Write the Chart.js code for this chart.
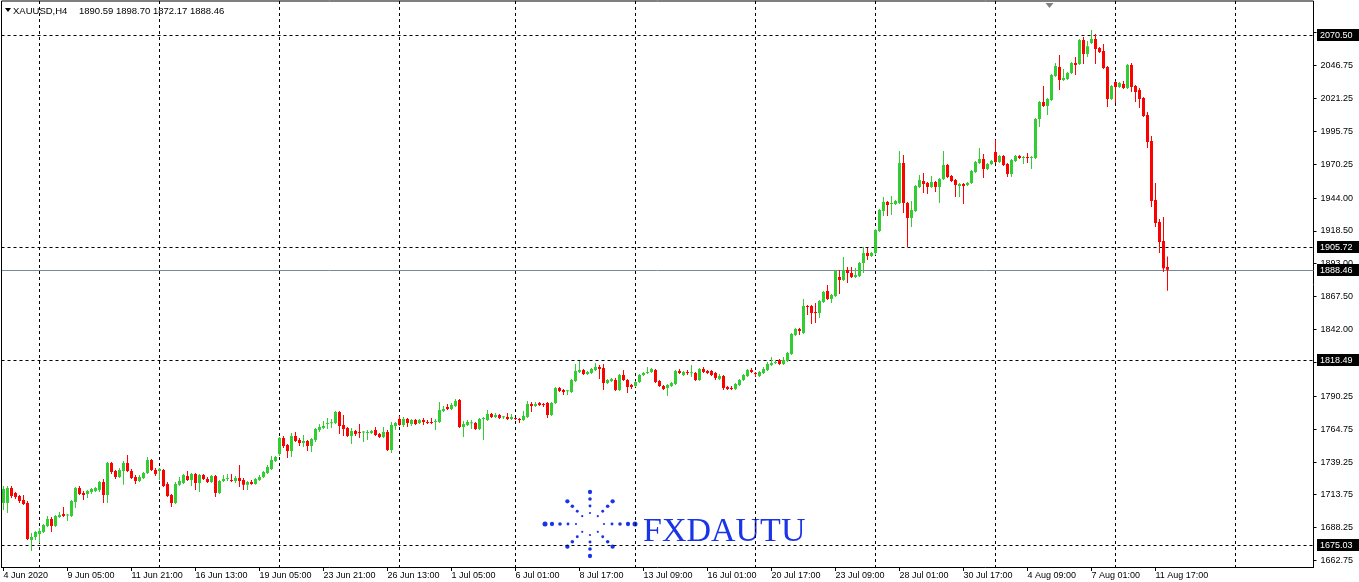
<!DOCTYPE html>
<html>
<head>
<meta charset="utf-8">
<title>XAUUSD,H4</title>
<script src="https://cdn.jsdelivr.net/npm/chart.js@4.4.1/dist/chart.umd.min.js"></script>
<style>
  html, body { margin: 0; padding: 0; background: #fff; }
  #wrap { width: 1359px; height: 582px; position: relative; }
</style>
</head>
<body>
<div id="wrap"><canvas id="chart" width="1359" height="582"></canvas></div>
<script>
// XAUUSD H4 candles, 4 Jun 2020 13:00 -> 12 Aug 2020 05:00
const symbol = "XAUUSD,H4";

const opens = [
  1707.6, 1707.6, 1719.2, 1715.3, 1713.0, 1709.9, 1707.6, 1678.9, 1681.2, 1683.5,
  1685.1, 1689.7, 1695.2, 1689.7, 1696.7, 1699.1, 1697.9, 1697.5, 1708.3, 1719.2,
  1715.3, 1714.5, 1716.1, 1716.9, 1717.7, 1723.9, 1713.8, 1738.6, 1732.4, 1727.7,
  1732.4, 1738.6, 1732.4, 1727.7, 1724.6, 1726.9, 1730.8, 1740.9, 1733.2, 1732.4,
  1733.2, 1722.3, 1713.8, 1707.6, 1721.6, 1723.1, 1728.5, 1725.4, 1730.1, 1723.1,
  1729.3, 1726.2, 1723.9, 1728.5, 1715.3, 1724.6, 1726.2, 1725.4, 1724.6, 1726.9,
  1725.4, 1721.6, 1723.9, 1722.3, 1725.4, 1727.7, 1730.8, 1733.9, 1740.1, 1745.6,
  1758.0, 1752.5, 1747.9, 1759.5, 1756.4, 1754.1, 1755.6, 1751.8, 1756.4, 1764.2,
  1765.7, 1768.8, 1769.3, 1769.6, 1778.1, 1768.0, 1765.7, 1759.5, 1763.4, 1762.2,
  1762.3, 1761.9, 1761.9, 1764.2, 1761.1, 1758.7, 1762.6, 1748.7, 1767.3, 1772.7,
  1768.0, 1772.7, 1768.8, 1771.9, 1769.6, 1771.9, 1770.4, 1770.4, 1770.4, 1770.4,
  1778.9, 1782.0, 1780.5, 1782.8, 1787.4, 1766.5, 1768.0, 1769.4, 1769.6, 1764.9,
  1772.7, 1771.9, 1776.6, 1774.2, 1775.8, 1774.0, 1774.2, 1772.7, 1772.9, 1772.7,
  1771.9, 1774.2, 1784.3, 1782.8, 1785.1, 1784.3, 1785.1, 1775.8, 1785.1, 1796.7,
  1795.2, 1794.2, 1793.6, 1802.2, 1809.2, 1810.7, 1807.6, 1808.4, 1810.7, 1813.0,
  1812.2, 1800.6, 1802.2, 1803.0, 1795.2, 1806.8, 1803.0, 1799.1, 1798.3, 1801.4,
  1806.8, 1808.4, 1809.2, 1810.7, 1802.2, 1798.3, 1796.7, 1798.3, 1799.9, 1809.9,
  1806.8, 1809.2, 1808.2, 1808.4, 1803.0, 1811.5, 1809.9, 1809.9, 1808.4, 1803.7,
  1806.1, 1797.5, 1796.7, 1796.0, 1799.1, 1803.0, 1806.1, 1810.7, 1808.4, 1806.1,
  1808.4, 1810.7, 1814.6, 1816.1, 1818.5, 1815.4, 1817.7, 1823.1, 1837.8, 1842.5,
  1839.4, 1860.3, 1860.3, 1855.7, 1854.9, 1863.4, 1872.0, 1865.8, 1868.1, 1882.8,
  1880.5, 1888.3, 1885.9, 1882.8, 1883.6, 1893.7, 1901.4, 1899.1, 1901.4, 1918.5,
  1934.0, 1941.0, 1939.4, 1939.4, 1940.2, 1971.2, 1940.2, 1928.6, 1934.0, 1952.6,
  1957.3, 1955.7, 1952.6, 1956.5, 1952.6, 1958.8, 1969.7, 1961.2, 1958.1, 1953.4,
  1954.9, 1954.2, 1955.7, 1964.2, 1971.2, 1974.3, 1966.6, 1970.5, 1979.7, 1972.0,
  1976.7, 1970.5, 1962.7, 1972.8, 1976.7, 1975.1, 1975.9, 1975.1, 1975.1, 2005.4,
  2018.5, 2015.4, 2020.1, 2038.7, 2045.7, 2035.6, 2036.4, 2041.0, 2048.8, 2048.0,
  2066.6, 2055.8, 2064.3, 2067.4, 2060.4, 2058.1, 2045.7, 2020.9, 2034.0, 2030.2,
  2032.5, 2029.4, 2047.2, 2030.9, 2027.8, 2021.6, 2008.5, 1988.3, 1942.5, 1925.5,
  1910.7, 1890.59
];

const highs = [
  1720.8, 1720.8, 1720.8, 1716.1, 1713.8, 1713.8, 1709.1, 1684.3, 1685.9, 1688.2,
  1691.3, 1697.5, 1696.7, 1698.3, 1700.6, 1704.4, 1699.1, 1709.9, 1720.0, 1720.8,
  1716.9, 1717.7, 1719.2, 1720.0, 1724.6, 1726.2, 1739.4, 1739.4, 1733.2, 1734.7,
  1740.1, 1744.8, 1733.9, 1729.3, 1729.3, 1731.6, 1743.2, 1741.7, 1734.7, 1734.7,
  1733.9, 1723.9, 1714.5, 1723.9, 1727.7, 1730.1, 1732.4, 1730.8, 1730.8, 1730.1,
  1730.1, 1727.7, 1729.3, 1729.3, 1725.4, 1729.3, 1730.1, 1730.1, 1728.5, 1737.0,
  1726.9, 1724.6, 1725.4, 1726.9, 1729.3, 1732.4, 1737.0, 1744.0, 1744.0, 1758.7,
  1759.5, 1753.3, 1761.9, 1762.6, 1758.0, 1760.3, 1756.4, 1758.0, 1765.7, 1768.8,
  1771.2, 1773.5, 1772.7, 1778.9, 1778.9, 1775.8, 1766.5, 1765.7, 1764.2, 1768.8,
  1763.4, 1764.2, 1764.2, 1766.5, 1761.9, 1766.5, 1764.2, 1770.4, 1770.4, 1775.0,
  1774.2, 1773.5, 1772.7, 1772.7, 1772.7, 1773.5, 1771.9, 1773.5, 1772.7, 1785.9,
  1782.8, 1784.3, 1785.1, 1788.2, 1788.2, 1771.2, 1771.9, 1771.9, 1770.4, 1773.5,
  1774.2, 1779.7, 1777.3, 1777.3, 1776.6, 1775.0, 1777.3, 1776.6, 1773.5, 1773.5,
  1778.9, 1786.7, 1785.9, 1785.9, 1785.9, 1785.1, 1785.9, 1785.9, 1797.5, 1797.5,
  1796.0, 1795.2, 1803.7, 1815.4, 1817.7, 1811.5, 1809.9, 1812.2, 1816.1, 1814.6,
  1815.4, 1803.7, 1804.5, 1804.5, 1807.6, 1810.7, 1803.7, 1799.9, 1802.2, 1807.6,
  1809.2, 1813.0, 1812.2, 1811.5, 1803.0, 1799.1, 1799.9, 1801.4, 1810.7, 1811.5,
  1809.9, 1810.7, 1814.6, 1809.2, 1812.2, 1813.0, 1810.7, 1810.7, 1809.2, 1807.6,
  1806.8, 1798.3, 1798.3, 1800.6, 1803.7, 1807.6, 1811.5, 1812.2, 1809.2, 1809.9,
  1813.0, 1816.9, 1820.8, 1818.5, 1819.2, 1820.8, 1824.7, 1839.4, 1843.3, 1843.3,
  1865.8, 1861.1, 1861.1, 1862.7, 1865.0, 1872.0, 1876.6, 1869.6, 1888.3, 1888.3,
  1898.3, 1890.6, 1890.6, 1889.8, 1894.5, 1906.1, 1905.3, 1902.2, 1920.1, 1935.6,
  1944.9, 1941.8, 1945.6, 1942.5, 1980.5, 1977.4, 1941.0, 1941.8, 1954.2, 1961.9,
  1963.5, 1956.5, 1961.2, 1957.3, 1959.6, 1980.5, 1970.4, 1961.9, 1958.8, 1955.7,
  1955.7, 1956.5, 1965.8, 1972.8, 1982.9, 1978.2, 1971.2, 1973.6, 1989.1, 1977.4,
  1977.4, 1971.2, 1974.3, 1977.4, 1977.4, 1976.7, 1979.0, 1976.7, 2006.1, 2019.3,
  2031.0, 2021.6, 2040.3, 2048.8, 2055.0, 2044.1, 2041.8, 2049.6, 2053.4, 2067.4,
  2069.0, 2065.9, 2074.4, 2071.3, 2061.2, 2063.5, 2046.5, 2031.7, 2034.8, 2034.0,
  2034.8, 2048.0, 2048.8, 2031.7, 2029.4, 2022.4, 2010.8, 1992.2, 1955.7, 1927.8,
  1929.3, 1898.70
];

const lows = [
  1702.1, 1699.8, 1711.4, 1710.7, 1707.6, 1706.0, 1678.9, 1670.3, 1678.9, 1676.5,
  1684.3, 1689.0, 1685.1, 1689.0, 1696.0, 1696.7, 1693.6, 1696.7, 1703.7, 1713.8,
  1709.9, 1711.4, 1714.5, 1716.1, 1716.1, 1707.6, 1707.6, 1730.1, 1726.2, 1726.9,
  1721.6, 1731.6, 1726.2, 1722.3, 1723.9, 1726.2, 1730.1, 1732.4, 1728.5, 1725.4,
  1720.0, 1712.2, 1704.4, 1706.8, 1720.8, 1722.3, 1724.6, 1720.8, 1717.7, 1716.1,
  1725.4, 1723.1, 1723.1, 1712.2, 1714.5, 1723.9, 1724.6, 1723.9, 1723.1, 1720.0,
  1717.7, 1717.7, 1721.6, 1721.6, 1724.6, 1726.9, 1730.1, 1733.2, 1739.4, 1744.0,
  1750.2, 1742.5, 1743.2, 1754.9, 1751.8, 1751.0, 1747.9, 1747.1, 1754.9, 1762.6,
  1764.9, 1764.9, 1765.7, 1768.8, 1761.1, 1759.5, 1758.7, 1753.3, 1759.5, 1758.0,
  1754.9, 1756.4, 1761.1, 1759.5, 1758.0, 1758.0, 1747.9, 1746.3, 1764.2, 1767.3,
  1766.5, 1766.5, 1767.3, 1768.0, 1768.8, 1768.0, 1768.8, 1768.8, 1764.2, 1769.6,
  1778.1, 1779.7, 1779.7, 1782.0, 1765.7, 1758.7, 1767.3, 1764.9, 1764.2, 1764.2,
  1756.4, 1771.2, 1773.5, 1773.5, 1772.7, 1772.7, 1771.9, 1771.9, 1771.9, 1769.6,
  1771.2, 1773.5, 1778.1, 1782.0, 1782.8, 1782.0, 1773.5, 1775.0, 1784.3, 1793.6,
  1791.3, 1791.3, 1792.9, 1801.4, 1808.4, 1806.8, 1806.8, 1807.6, 1809.9, 1803.7,
  1795.2, 1799.9, 1801.4, 1794.4, 1794.4, 1802.2, 1792.9, 1796.0, 1797.5, 1800.6,
  1806.1, 1807.6, 1808.4, 1800.6, 1797.5, 1795.2, 1790.5, 1797.5, 1799.1, 1807.6,
  1806.1, 1806.8, 1805.3, 1802.2, 1802.2, 1808.4, 1807.6, 1806.1, 1803.0, 1803.0,
  1795.2, 1795.2, 1795.2, 1795.2, 1798.3, 1802.2, 1805.3, 1808.4, 1805.3, 1805.3,
  1807.6, 1809.9, 1813.8, 1815.4, 1814.6, 1814.6, 1816.9, 1822.4, 1837.1, 1837.8,
  1838.6, 1853.4, 1846.4, 1847.2, 1851.0, 1862.7, 1865.0, 1862.7, 1867.3, 1869.6,
  1879.7, 1878.2, 1882.0, 1882.0, 1882.8, 1885.9, 1896.0, 1898.3, 1899.9, 1917.7,
  1930.1, 1930.1, 1930.9, 1938.7, 1939.4, 1932.5, 1906.1, 1921.6, 1933.2, 1951.8,
  1948.0, 1947.2, 1951.8, 1948.7, 1940.2, 1958.1, 1959.6, 1956.5, 1944.9, 1944.9,
  1939.4, 1953.4, 1954.9, 1963.5, 1970.5, 1959.6, 1965.8, 1969.7, 1971.2, 1971.2,
  1968.9, 1960.4, 1960.4, 1972.0, 1974.3, 1970.5, 1971.2, 1966.6, 1974.3, 1999.1,
  2014.6, 2008.5, 2019.3, 2037.9, 2027.8, 2034.8, 2035.6, 2040.3, 2039.5, 2047.2,
  2048.0, 2053.4, 2063.5, 2048.0, 2056.5, 2044.1, 2014.6, 2020.1, 2017.8, 2029.4,
  2028.6, 2028.6, 2026.3, 2018.5, 2013.9, 2006.9, 1982.9, 1937.1, 1921.6, 1901.4,
  1886.7, 1872.17
];

const closes = [
  1718.4, 1719.2, 1713.0, 1712.2, 1709.1, 1706.8, 1679.7, 1681.2, 1685.1, 1685.9,
  1690.5, 1695.2, 1689.7, 1697.5, 1698.3, 1697.5, 1698.3, 1709.1, 1719.2, 1714.5,
  1713.8, 1716.9, 1718.4, 1719.2, 1723.9, 1713.8, 1738.6, 1731.6, 1727.7, 1733.2,
  1738.6, 1732.4, 1726.9, 1724.6, 1727.7, 1730.8, 1740.9, 1733.2, 1730.1, 1733.9,
  1720.8, 1713.0, 1707.6, 1722.3, 1724.6, 1729.3, 1725.4, 1730.1, 1723.1, 1729.3,
  1726.2, 1723.9, 1728.5, 1715.3, 1724.6, 1726.2, 1726.9, 1724.6, 1726.9, 1724.6,
  1721.6, 1723.9, 1722.3, 1726.2, 1727.7, 1731.6, 1735.5, 1740.9, 1743.2, 1758.0,
  1751.8, 1747.9, 1759.5, 1755.6, 1754.1, 1755.6, 1751.8, 1757.2, 1764.9, 1766.5,
  1767.3, 1769.6, 1769.6, 1778.1, 1767.3, 1764.9, 1759.5, 1763.4, 1761.1, 1761.9,
  1762.6, 1762.6, 1763.4, 1760.3, 1758.7, 1762.6, 1748.7, 1768.0, 1769.6, 1768.0,
  1772.7, 1769.6, 1771.9, 1768.8, 1771.9, 1770.4, 1769.6, 1769.6, 1771.2, 1779.7,
  1780.5, 1780.5, 1783.6, 1786.7, 1766.5, 1768.8, 1770.4, 1769.6, 1764.9, 1772.7,
  1773.5, 1776.6, 1774.2, 1775.8, 1773.5, 1774.2, 1772.7, 1774.2, 1772.7, 1771.9,
  1775.0, 1784.3, 1782.8, 1784.3, 1783.6, 1783.6, 1775.8, 1785.1, 1796.7, 1794.4,
  1793.6, 1794.4, 1803.0, 1809.9, 1810.7, 1807.6, 1809.2, 1811.5, 1813.0, 1811.5,
  1800.6, 1803.0, 1803.7, 1795.2, 1806.8, 1803.0, 1797.5, 1797.5, 1801.4, 1806.8,
  1808.4, 1809.2, 1811.5, 1801.4, 1798.3, 1796.0, 1799.1, 1800.6, 1809.9, 1808.4,
  1809.2, 1808.4, 1808.4, 1803.0, 1811.5, 1809.2, 1808.4, 1806.8, 1804.5, 1806.1,
  1796.7, 1796.0, 1796.0, 1799.9, 1803.0, 1806.8, 1810.7, 1809.2, 1807.6, 1809.2,
  1811.5, 1815.4, 1816.1, 1816.9, 1815.4, 1818.5, 1823.9, 1838.6, 1842.5, 1840.9,
  1860.3, 1859.6, 1854.9, 1854.9, 1864.2, 1871.2, 1865.8, 1868.9, 1887.5, 1880.5,
  1888.3, 1885.9, 1882.8, 1884.4, 1893.7, 1901.4, 1899.1, 1901.4, 1919.3, 1934.8,
  1941.0, 1938.7, 1940.2, 1941.8, 1971.2, 1940.2, 1928.6, 1934.8, 1953.4, 1958.1,
  1954.9, 1952.6, 1956.5, 1952.6, 1958.8, 1969.7, 1960.4, 1957.3, 1954.2, 1954.9,
  1953.4, 1955.7, 1965.0, 1972.0, 1974.3, 1966.6, 1970.5, 1972.8, 1972.0, 1976.7,
  1969.7, 1962.7, 1973.6, 1976.7, 1975.1, 1975.9, 1975.1, 1975.9, 2005.4, 2018.5,
  2015.4, 2020.9, 2039.5, 2046.5, 2035.6, 2037.2, 2041.0, 2048.8, 2047.2, 2066.6,
  2055.8, 2061.9, 2067.4, 2059.6, 2057.3, 2044.9, 2020.9, 2031.0, 2030.2, 2033.3,
  2029.4, 2047.2, 2030.2, 2026.3, 2020.9, 2007.7, 1987.5, 1941.8, 1924.7, 1909.9,
  1889.7, 1888.46
];

// time axis labels and the bars they sit on
const xTickLabels = [
  "4 Jun 2020", "9 Jun 05:00", "11 Jun 21:00", "16 Jun 13:00", "19 Jun 05:00",
  "23 Jun 21:00", "26 Jun 13:00", "1 Jul 05:00", "6 Jul 01:00", "8 Jul 17:00",
  "13 Jul 09:00", "16 Jul 01:00", "20 Jul 17:00", "23 Jul 09:00", "28 Jul 01:00",
  "30 Jul 17:00", "4 Aug 09:00", "7 Aug 01:00", "11 Aug 17:00"
];
const xTickBars = [0, 16, 32, 48, 64, 80, 96, 112, 128, 144, 160, 176, 192, 208, 224, 240, 256, 272, 288];

// Monday 01:00 bars (weekly period separators)
const weekStarts = [9, 39, 69, 99, 128, 158, 188, 218, 248, 278, 308];

// price scale labels
const yTickValues = [2072.25, 2046.75, 2021.25, 1995.75, 1970.25, 1944.00, 1918.50, 1893.00,
  1867.50, 1842.00, 1816.50, 1790.25, 1764.75, 1739.25, 1713.75, 1688.25, 1662.75];

const levelLines = [2070.50, 1905.72, 1818.49, 1675.03];
const bidPrice = 1888.46;
const shiftBars = 36; // empty space right of the last bar

const totalBars = opens.length + shiftBars;
const labels = new Array(totalBars).fill('');
xTickBars.forEach((b, k) => { labels[b] = xTickLabels[k]; });

const bullColor = '#32CD32';
const bearColor = '#FF0000';
const colors = opens.map((o, i) => closes[i] >= o ? bullColor : bearColor);
const logoBlue = '#1a35e8';
const font9 = { family: '"Liberation Sans", Arial, sans-serif', size: 9 };

function drawLogo(ctx) {
  const cx = 590, cy = 524;
  ctx.fillStyle = logoBlue;
  for (let k = 0; k < 8; k++) {
    const ang = k * Math.PI / 4;
    const horiz = (k % 4 === 0);
    const radii = horiz ? [14, 22, 30, 38, 45] : [11, 18, 25, 32];
    radii.forEach((r, j) => {
      const px = cx + Math.cos(ang) * r;
      const py = cy + Math.sin(ang) * r;
      ctx.beginPath();
      ctx.arc(px, py, 1.1 + j * 0.35, 0, Math.PI * 2);
      ctx.fill();
    });
  }
  ctx.font = '34px "Liberation Serif", "Times New Roman", serif';
  ctx.textBaseline = 'alphabetic';
  ctx.fillText('FXDAUTU', 643, 541);
}

const mt4Overlay = {
  id: 'mt4Overlay',
  beforeDatasetsDraw(chart) {
    const { ctx, chartArea: a, scales: { x, y } } = chart;
    ctx.save();
    drawLogo(ctx);
    ctx.strokeStyle = '#000';
    ctx.lineWidth = 1;
    ctx.setLineDash([3, 3]);
    weekStarts.forEach(i => {
      const px = Math.floor(x.getPixelForValue(i)) + 0.5;
      ctx.beginPath(); ctx.moveTo(px, a.top); ctx.lineTo(px, a.bottom); ctx.stroke();
    });
    levelLines.forEach(v => {
      const py = Math.round(y.getPixelForValue(v)) + 0.5;
      ctx.beginPath(); ctx.moveTo(a.left, py); ctx.lineTo(a.right, py); ctx.stroke();
    });
    ctx.setLineDash([]);
    ctx.strokeStyle = '#778899';
    const by = Math.round(y.getPixelForValue(bidPrice)) + 0.5;
    ctx.beginPath(); ctx.moveTo(a.left, by); ctx.lineTo(a.right, by); ctx.stroke();
    ctx.restore();
  },
  afterDraw(chart) {
    const { ctx, chartArea: a, scales: { y } } = chart;
    ctx.save();
    // frame
    ctx.strokeStyle = '#000';
    ctx.lineWidth = 1;
    ctx.beginPath();
    ctx.moveTo(a.left, a.bottom); ctx.lineTo(a.left, a.top); ctx.lineTo(a.right, a.top);
    ctx.stroke();
    // price boxes on the scale
    ctx.font = '9px "Liberation Sans", Arial, sans-serif';
    ctx.textBaseline = 'middle';
    levelLines.concat([bidPrice]).forEach(v => {
      const py = Math.round(y.getPixelForValue(v));
      ctx.fillStyle = '#000';
      ctx.fillRect(Math.round(a.right) + 3, py - 6, 42, 12);
      ctx.fillStyle = '#fff';
      ctx.fillText(v.toFixed(2), Math.round(a.right) + 6, py + 0.5);
    });
    // header
    const n = opens.length - 1;
    ctx.fillStyle = '#000';
    ctx.beginPath(); ctx.moveTo(5, 8); ctx.lineTo(11, 8); ctx.lineTo(8, 12); ctx.closePath(); ctx.fill();
    ctx.font = '9.5px "Liberation Sans", Arial, sans-serif';
    ctx.textBaseline = 'alphabetic';
    ctx.fillText(symbol, 13, 14);
    ctx.fillText([opens[n], highs[n], lows[n], closes[n]].map(v => v.toFixed(2)).join(' '), 79, 14);
    // chart shift marker
    ctx.fillStyle = '#808080';
    const sx = a.right - 264;
    ctx.beginPath(); ctx.moveTo(sx - 4, a.top + 2); ctx.lineTo(sx + 4, a.top + 2); ctx.lineTo(sx, a.top + 7); ctx.closePath(); ctx.fill();
    ctx.restore();
  }
};

new Chart(document.getElementById('chart'), {
  type: 'bar',
  data: {
    labels: labels,
    datasets: [
      {
        label: 'wick',
        data: lows.map((l, i) => [l, highs[i]]),
        backgroundColor: colors,
        barThickness: 1,
        grouped: false,
        inflateAmount: 0,
        order: 2
      },
      {
        label: 'body',
        data: opens.map((o, i) => [o, closes[i]]),
        backgroundColor: colors,
        barThickness: 3,
        minBarLength: 1,
        grouped: false,
        inflateAmount: 0,
        order: 1
      }
    ]
  },
  options: {
    responsive: false,
    animation: false,
    layout: { padding: { left: 1.5, top: 1, right: 0, bottom: 0 } },
    plugins: { legend: { display: false }, tooltip: { enabled: false } },
    scales: {
      x: {
        type: 'category',
        offset: true,
        grid: { offset: false, drawOnChartArea: false, tickLength: 4, color: '#000' },
        border: { color: '#000' },
        ticks: { autoSkip: false, maxRotation: 0, align: 'start', padding: -1, font: font9, color: '#000' },
        afterBuildTicks: s => { s.ticks = xTickBars.map(v => ({ value: v })); },
        afterFit: s => { s.height = 15; s.paddingLeft = 0; s.paddingRight = 0; }
      },
      y: {
        position: 'right',
        min: 1657.9,
        max: 2096.9,
        grid: { drawOnChartArea: false, tickLength: 3, color: '#000' },
        border: { color: '#000' },
        ticks: { font: font9, color: '#000', padding: 4, callback: v => Number(v).toFixed(2) },
        afterBuildTicks: s => { s.ticks = yTickValues.map(v => ({ value: v })); },
        afterFit: s => { s.width = 45.5; s.paddingTop = 0; s.paddingBottom = 0; }
      }
    }
  },
  plugins: [mt4Overlay]
});
</script>
</body>
</html>
